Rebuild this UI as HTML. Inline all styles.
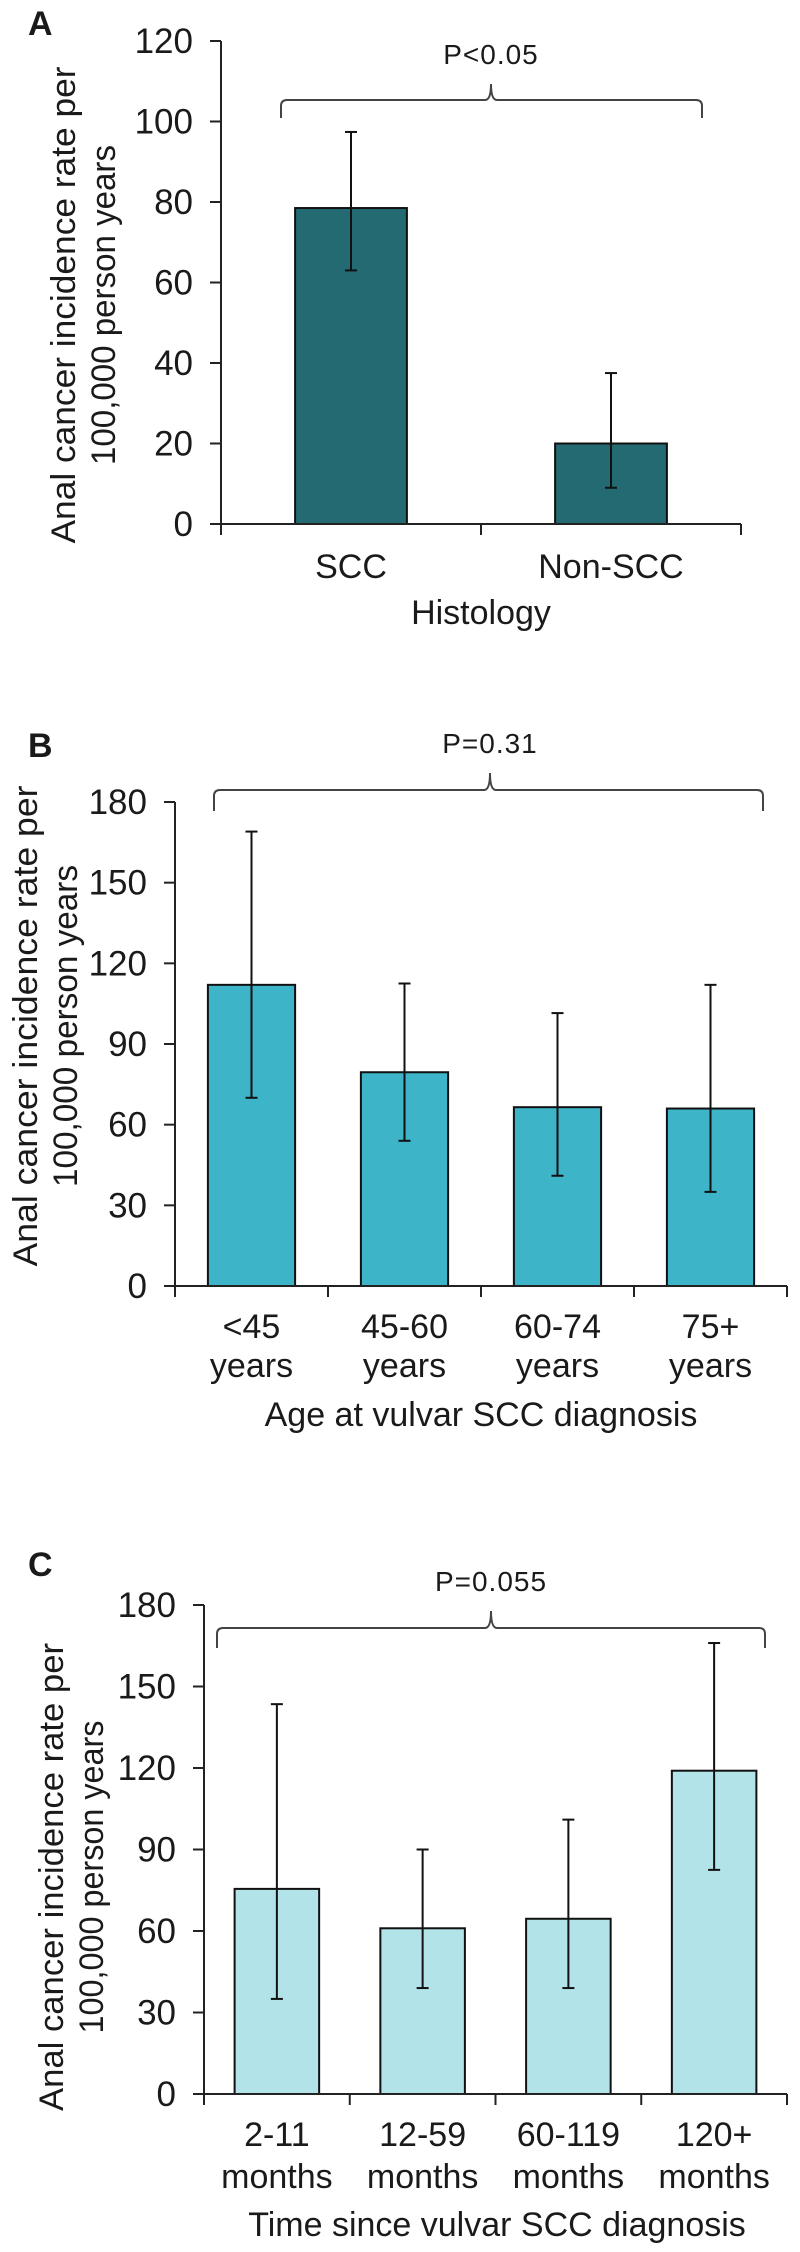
<!DOCTYPE html>
<html><head><meta charset="utf-8">
<style>
html,body{margin:0;padding:0;background:#fff;}
svg{display:block;}
text{font-family:"Liberation Sans",Arial,sans-serif;fill:#1a1a1a;}
</style></head>
<body>
<svg id="fig" width="800" height="2252" viewBox="0 0 800 2252" xmlns="http://www.w3.org/2000/svg"></svg>
<script>
// Panel A data
const catsA = ["SCC", "Non-SCC"];
const valsA = [78.5, 20];
const loA = [63, 9];
const hiA = [97.4, 37.5];
const ticksA = [0, 20, 40, 60, 80, 100, 120];
// Panel B data
const catsB = [["<45", "years"], ["45-60", "years"], ["60-74", "years"], ["75+", "years"]];
const valsB = [112, 79.5, 66.5, 66];
const loB = [70, 54, 41, 35];
const hiB = [169, 112.5, 101.5, 112];
const ticksB = [0, 30, 60, 90, 120, 150, 180];
// Panel C data
const catsC = [["2-11", "months"], ["12-59", "months"], ["60-119", "months"], ["120+", "months"]];
const valsC = [75.5, 61, 64.5, 119];
const loC = [35, 39, 39, 82.5];
const hiC = [143.5, 90, 101, 166];
const ticksC = [0, 30, 60, 90, 120, 150, 180];

const NS = "http://www.w3.org/2000/svg";
const svg = document.getElementById("fig");
function el(tag, attrs, parent, txt) {
  const e = document.createElementNS(NS, tag);
  for (const k in attrs) e.setAttribute(k, attrs[k]);
  if (txt !== undefined) e.textContent = txt;
  (parent || svg).appendChild(e);
  return e;
}

function panel(cfg) {
  const g = el("g", {});
  
  
  const ymax = cfg.ticks[cfg.ticks.length - 1];
  const y = v => cfg.y0 - (v / ymax) * (cfg.y0 - cfg.yTop);
  const n = cfg.cats.length;
  const step = (cfg.xR - cfg.xL) / n;
  const xc = i => cfg.xL + step * (i + 0.5);

  // panel letter
  const L = el("text", {x: 28, y: cfg.letterY, "font-size": 34, "font-weight": "bold", fill: "#000"}, g, cfg.letter);
  
  

  // bars
  cfg.vals.forEach((v, i) => {
    const bw = step * cfg.barFrac;
    const r = el("rect", {x: xc(i) - bw / 2, y: y(v), width: bw, height: y(0) - y(v), fill: cfg.color, stroke: "#111", "stroke-width": 2}, g);
    
    
  });
  // error bars
  cfg.vals.forEach((v, i) => {
    const eg = el("g", {stroke: "#111", "stroke-width": 2}, g);
    
    
    const cx = xc(i);
    el("line", {x1: cx, x2: cx, y1: y(cfg.lo[i]), y2: y(cfg.hi[i])}, eg);
    el("line", {x1: cx - 6, x2: cx + 6, y1: y(cfg.lo[i]), y2: y(cfg.lo[i])}, eg);
    el("line", {x1: cx - 6, x2: cx + 6, y1: y(cfg.hi[i]), y2: y(cfg.hi[i])}, eg);
  });

  // y axis
  const ya = el("g", {stroke: "#222", "stroke-width": 2}, g);
  
  
  el("line", {x1: cfg.xL, x2: cfg.xL, y1: y(ymax), y2: y(0)}, ya);
  cfg.ticks.forEach(t => {
    el("line", {x1: cfg.xL - 11, x2: cfg.xL, y1: y(t), y2: y(t)}, ya);
    const tl = el("text", {x: cfg.xL - 28, y: y(t) + 12, "text-anchor": "end", "font-size": 35, stroke: "none"}, g, String(t));
    
    
  });
  // x axis
  const xa = el("g", {stroke: "#222", "stroke-width": 2}, g);
  
  
  el("line", {x1: cfg.xL, x2: cfg.xR, y1: y(0), y2: y(0)}, xa);
  for (let i = 0; i <= n; i++) {
    const tx = cfg.xL + step * i;
    el("line", {x1: tx, x2: tx, y1: y(0), y2: y(0) + 11}, xa);
  }
  // category labels
  cfg.cats.forEach((c, i) => {
    const lines = Array.isArray(c) ? c : [c];
    lines.forEach((s, j) => {
      const t = el("text", {x: xc(i), y: cfg.catY + j * cfg.catDy, "text-anchor": "middle", "font-size": 34}, g, s);
      
      
    });
  });
  // x title
  const xt = el("text", {x: cfg.xTitleX, y: cfg.xTitleY, "text-anchor": "middle", "font-size": 34}, g, cfg.xTitle);
  
  
  // y title
  const yt = el("text", {transform: `translate(${cfg.ytX},${cfg.ytY}) rotate(-90)`, "text-anchor": "middle", "font-size": 34}, g);
  
  
  el("tspan", {x: 0, y: 0, textLength: cfg.ytLen, lengthAdjust: "spacingAndGlyphs"}, yt, "Anal cancer incidence rate per");
  el("tspan", {x: 0, y: 40, textLength: cfg.ytLen2, lengthAdjust: "spacingAndGlyphs"}, yt, "100,000 person years");

  // brace
  const b = cfg.brace;
  const br = el("path", {d: `M${b.x1},${b.yEnd} L${b.x1},${b.yH + 6} Q${b.x1},${b.yH} ${b.x1 + 6},${b.yH} L${b.cx - 6},${b.yH} Q${b.cx},${b.yH} ${b.cx},${b.yTop} Q${b.cx},${b.yH} ${b.cx + 6},${b.yH} L${b.x2 - 6},${b.yH} Q${b.x2},${b.yH} ${b.x2},${b.yH + 6} L${b.x2},${b.yEnd}`, fill: "none", stroke: "#444", "stroke-width": 2}, g);
  
  
  const pt = el("text", {x: b.cx, y: b.pY, "text-anchor": "middle", "font-size": 28, "letter-spacing": 1, fill: "#333"}, g, cfg.p);
  
  
}

panel({name: "panel-a", letter: "A", letterY: 35, cats: catsA, vals: valsA, lo: loA, hi: hiA, ticks: ticksA,
  color: "#236A73", xL: 221, xR: 741, y0: 524, yTop: 41, barFrac: 0.43,
  catY: 578, catDy: 0, xTitle: "Histology", xTitleX: 481, xTitleY: 624,
  ytX: 75, ytY: 305, ytLen: 477, ytLen2: 320,
  brace: {x1: 281, x2: 702, cx: 491, yTop: 84, yH: 100, yEnd: 118, pY: 64}, p: "P<0.05"});

panel({name: "panel-b", letter: "B", letterY: 757, cats: catsB, vals: valsB, lo: loB, hi: hiB, ticks: ticksB,
  color: "#3DB4C8", xL: 175, xR: 787, y0: 1286, yTop: 802, barFrac: 0.57,
  catY: 1338, catDy: 39, xTitle: "Age at vulvar SCC diagnosis", xTitleX: 481, xTitleY: 1426,
  ytX: 37, ytY: 1026, ytLen: 481, ytLen2: 322,
  brace: {x1: 214, x2: 763, cx: 490, yTop: 773, yH: 790, yEnd: 811, pY: 753}, p: "P=0.31"});

panel({name: "panel-c", letter: "C", letterY: 1576, cats: catsC, vals: valsC, lo: loC, hi: hiC, ticks: ticksC,
  color: "#B2E3E9", xL: 204, xR: 787, y0: 2094, yTop: 1605, barFrac: 0.58,
  catY: 2146, catDy: 42, xTitle: "Time since vulvar SCC diagnosis", xTitleX: 497, xTitleY: 2236,
  ytX: 63, ytY: 1877, ytLen: 468, ytLen2: 313,
  brace: {x1: 217, x2: 765, cx: 491, yTop: 1611, yH: 1628, yEnd: 1648, pY: 1591}, p: "P=0.055"});
</script>
</body></html>
